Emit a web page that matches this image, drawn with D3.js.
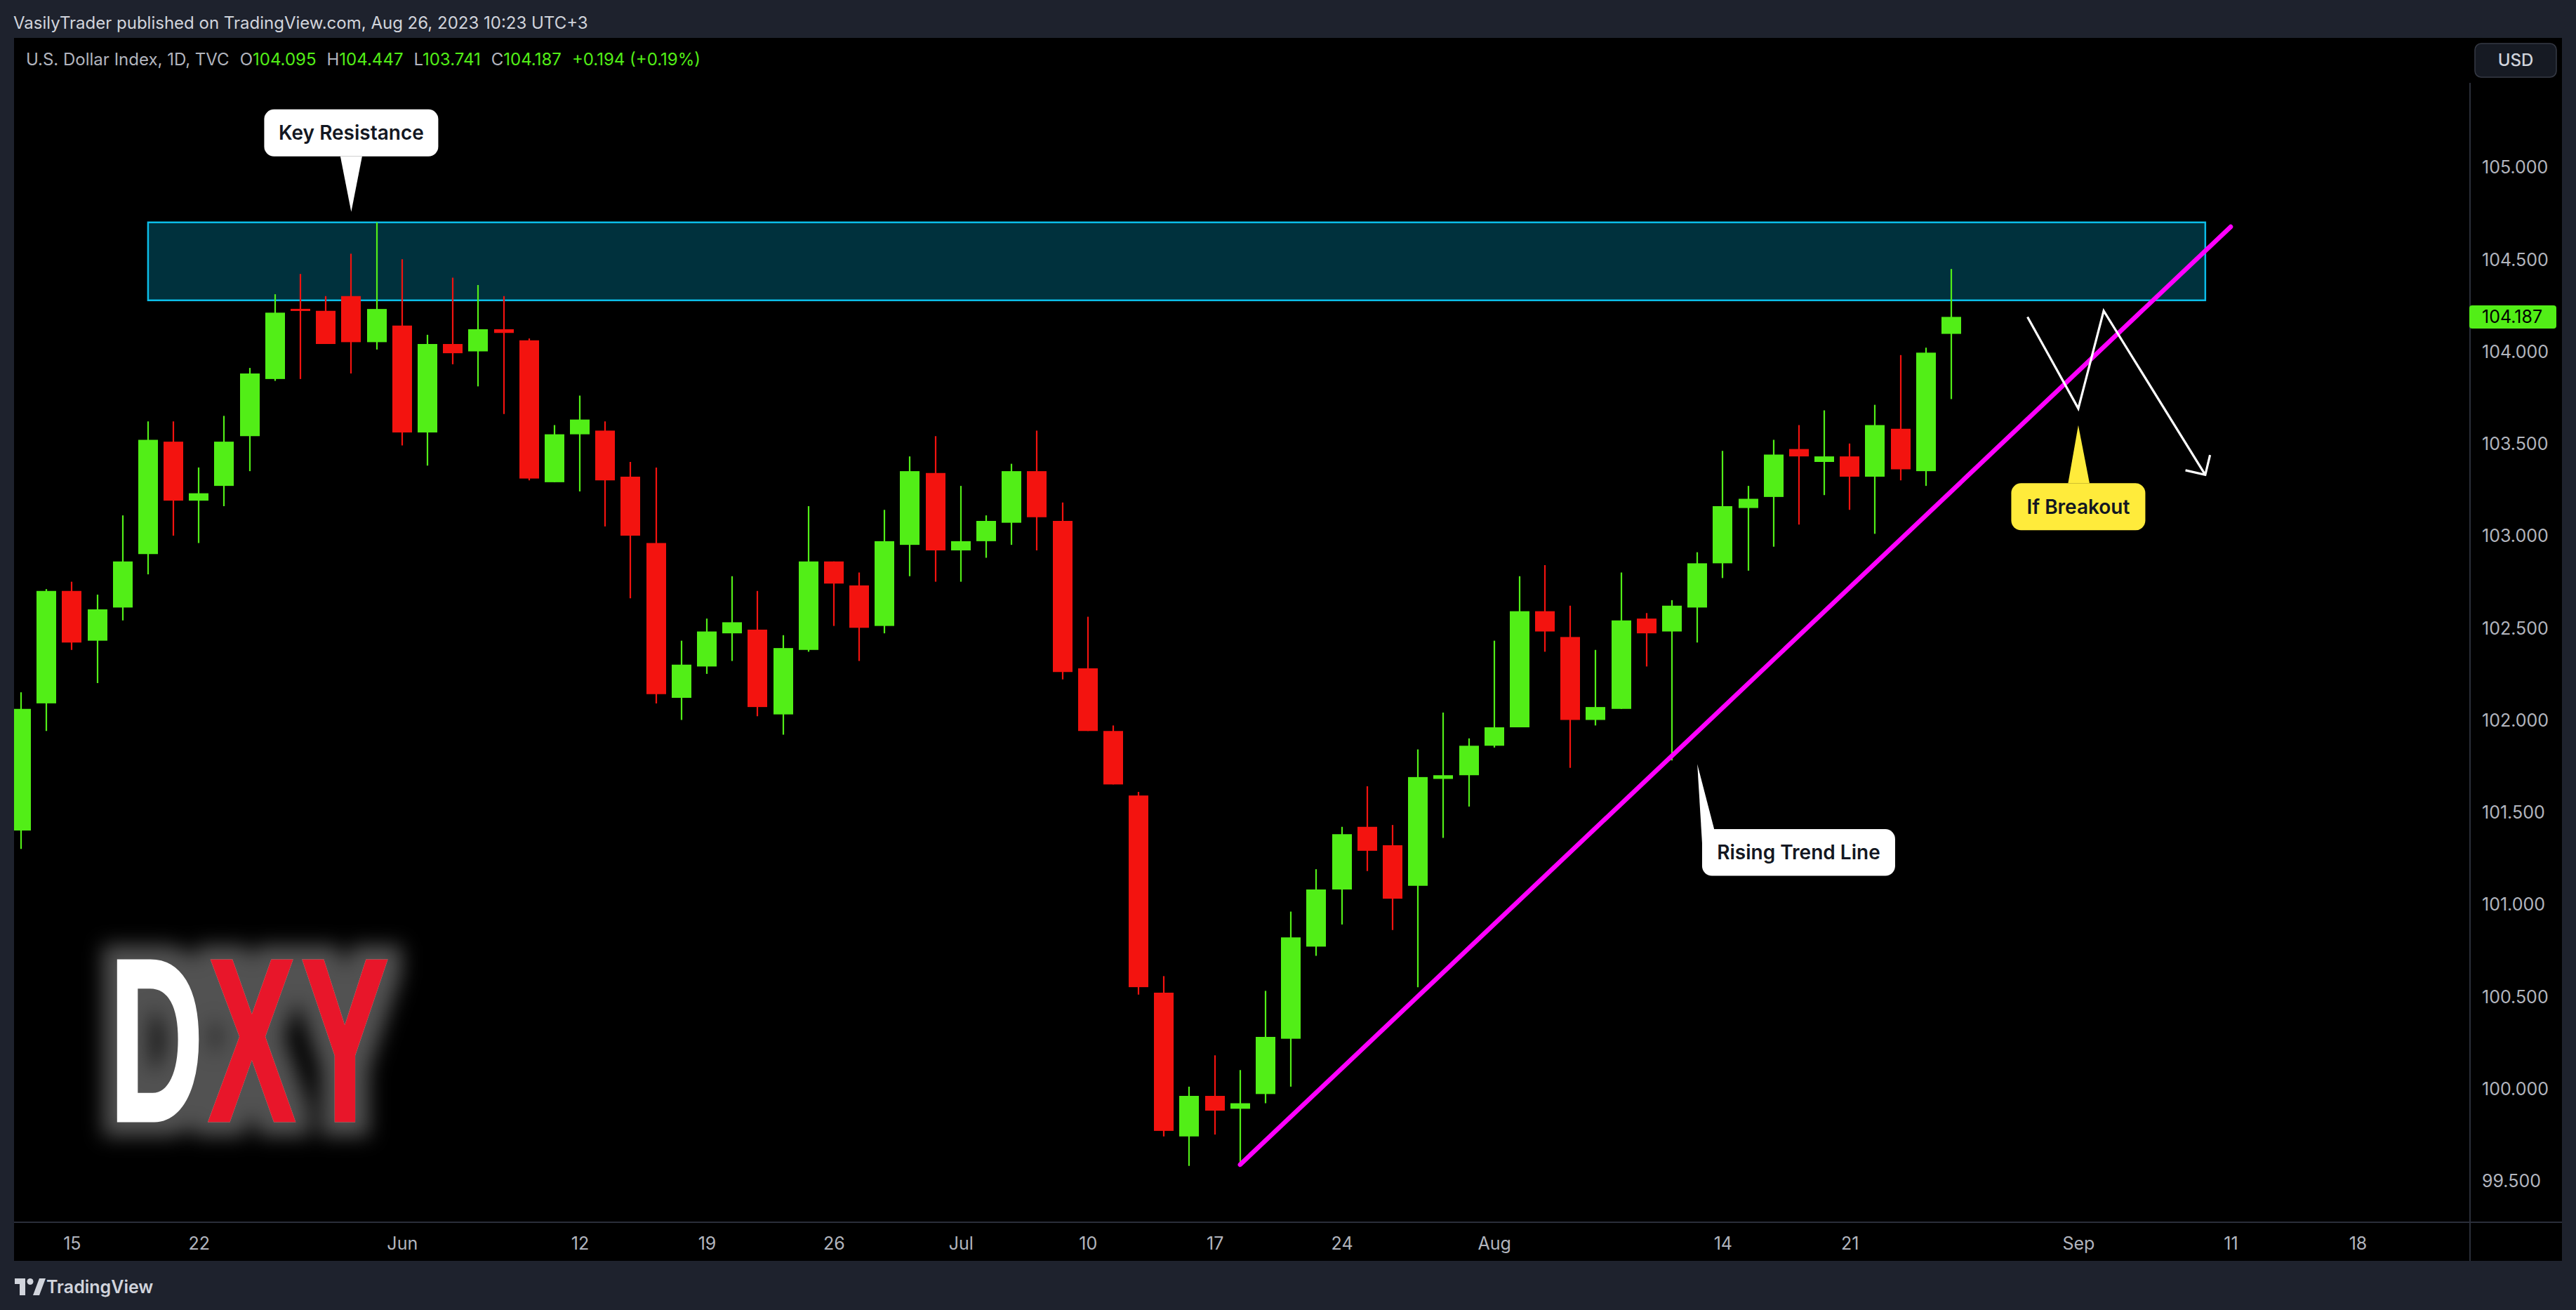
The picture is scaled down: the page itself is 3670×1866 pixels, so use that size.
<!DOCTYPE html>
<html><head><meta charset="utf-8">
<script src="https://cdn.jsdelivr.net/npm/d3@7"></script>
<style>
html,body{margin:0;padding:0;background:#1e222d;overflow:hidden;}
svg{display:block;}
</style></head><body>
<svg id="chart" width="3670" height="1866"></svg>
<script>
// ---------------- DATA ----------------
const dates = ["2023-05-11","2023-05-12","2023-05-15","2023-05-16","2023-05-17","2023-05-18","2023-05-19",
"2023-05-22","2023-05-23","2023-05-24","2023-05-25","2023-05-26","2023-05-29","2023-05-30","2023-05-31",
"2023-06-01","2023-06-02","2023-06-05","2023-06-06","2023-06-07","2023-06-08","2023-06-09","2023-06-12",
"2023-06-13","2023-06-14","2023-06-15","2023-06-16","2023-06-19","2023-06-20","2023-06-21","2023-06-22",
"2023-06-23","2023-06-26","2023-06-27","2023-06-28","2023-06-29","2023-06-30","2023-07-03","2023-07-04",
"2023-07-05","2023-07-06","2023-07-07","2023-07-10","2023-07-11","2023-07-12","2023-07-13","2023-07-14",
"2023-07-17","2023-07-18","2023-07-19","2023-07-20","2023-07-21","2023-07-24","2023-07-25","2023-07-26",
"2023-07-27","2023-07-28","2023-07-31","2023-08-01","2023-08-02","2023-08-03","2023-08-04","2023-08-07",
"2023-08-08","2023-08-09","2023-08-10","2023-08-11","2023-08-14","2023-08-15","2023-08-16","2023-08-17",
"2023-08-18","2023-08-21","2023-08-22","2023-08-23","2023-08-24","2023-08-25"];
const open = [101.40,102.09,102.70,102.43,102.61,102.90,103.51,103.19,103.27,103.54,103.85,104.23,104.22,104.30,104.05,
104.14,103.56,104.04,104.00,104.12,104.06,103.29,103.55,103.57,103.32,102.96,102.12,102.29,102.47,102.49,102.03,
102.38,102.86,102.73,102.51,102.95,103.34,102.92,102.97,103.07,103.35,103.08,102.28,101.94,101.59,100.52,99.74,
99.96,99.89,99.97,100.27,100.77,101.08,101.42,101.32,101.10,101.68,101.70,101.86,101.96,102.59,102.45,102.00,
102.06,102.55,102.48,102.61,102.85,103.15,103.21,103.47,103.40,103.43,103.32,103.58,103.35,104.095];
const high = [102.15,102.71,102.75,102.68,103.11,103.62,103.62,103.37,103.65,103.91,104.31,104.42,104.30,104.53,104.70,
104.50,104.09,104.40,104.36,104.30,104.07,103.60,103.76,103.62,103.40,103.37,102.43,102.55,102.78,102.70,102.46,
103.16,102.86,102.80,103.14,103.43,103.54,103.27,103.11,103.39,103.57,103.18,102.56,101.97,101.61,100.61,100.01,
100.18,100.10,100.53,100.96,101.19,101.42,101.64,101.43,101.84,102.04,101.90,102.43,102.78,102.84,102.62,102.38,
102.80,102.58,102.65,102.91,103.46,103.27,103.52,103.60,103.68,103.50,103.71,103.98,104.02,104.447];
const low = [101.30,101.94,102.38,102.20,102.54,102.79,103.00,102.96,103.16,103.35,103.84,103.85,104.04,103.88,104.01,
103.49,103.38,103.93,103.81,103.66,103.30,103.29,103.24,103.05,102.66,102.09,102.00,102.25,102.32,102.02,101.92,
102.37,102.51,102.32,102.47,102.78,102.75,102.75,102.88,102.95,102.92,102.22,101.94,101.65,100.51,99.74,99.58,
99.75,99.58,99.92,100.01,100.72,100.89,101.18,100.86,100.55,101.36,101.53,101.85,101.96,102.37,101.74,101.97,
102.06,102.29,101.78,102.42,102.77,102.81,102.94,103.06,103.22,103.14,103.01,103.30,103.27,103.741];
const close = [102.06,102.70,102.42,102.60,102.86,103.52,103.19,103.23,103.51,103.88,104.21,104.22,104.04,104.05,104.23,
103.56,104.04,103.99,104.12,104.10,103.31,103.55,103.63,103.30,103.00,102.14,102.30,102.48,102.53,102.07,102.39,
102.86,102.74,102.50,102.97,103.35,102.92,102.97,103.08,103.35,103.10,102.26,101.94,101.65,100.55,99.77,99.96,
99.88,99.92,100.28,100.82,101.08,101.38,101.29,101.03,101.69,101.70,101.86,101.96,102.59,102.48,102.00,102.07,
102.54,102.47,102.62,102.85,103.16,103.20,103.44,103.43,103.43,103.32,103.60,103.36,103.993,104.187];

const priceTicks = [99.5,100,100.5,101,101.5,102,102.5,103,103.5,104,104.5,105];
const tickDates  = ["2023-05-15","2023-05-22","2023-06-01","2023-06-12","2023-06-19","2023-06-26","2023-07-03",
                    "2023-07-10","2023-07-17","2023-07-24","2023-08-01","2023-08-14","2023-08-21","2023-09-01",
                    "2023-09-11","2023-09-18"];
const tickLabels = ["15","22","Jun","12","19","26","Jul","10","17","24","Aug","14","21","Sep","11","18"];

const headerText = "VasilyTrader published on TradingView.com, Aug 26, 2023 10:23 UTC+3";
const symbolName = "U.S. Dollar Index, 1D, TVC";
const currency = "USD";
const logoText = "DXY";

// drawings (anchored on date / price)
const zone = {from:"2023-05-18", to:"2023-09-08", low:104.277, high:104.70};
const trendLine = [{date:"2023-07-18", price:99.587},{date:"2023-09-11", price:104.676}];
const scenario = [{date:"2023-08-30", price:104.187},{date:"2023-09-01", price:103.69},
                  {date:"2023-09-04", price:104.22},{date:"2023-09-08", price:103.33}];
const callouts = [
  {text:"Key Resistance", date:"2023-05-30", price:104.757, fill:"#ffffff",
   box:[-124,-146,248,67], base:[[-15.5,-79],[15.5,-79]]},
  {text:"Rising Trend Line", date:"2023-08-11", price:101.76, fill:"#ffffff",
   box:[6.8,92.6,275,66.4], base:[[6.8,112],[24,92.6]]},
  {text:"If Breakout", date:"2023-09-01", price:103.599, fill:"#ffeb3b",
   box:[-95.5,82.6,191,67], base:[[-14.5,82.6],[16,82.6]]}
];

// ---------------- LAYOUT / STYLE ----------------
const W = 3670, H = 1866;
const panel = {x:20, y:54, w:3630, h:1742};
const plot = {left:20, right:3519, top:54, bottom:1740};
const GREEN = "#52ee17", RED = "#f3130f";
const FONT = "Inter, 'Noto Sans', Roboto, sans-serif";

const svg = d3.select("#chart");
const defs = svg.append("defs");
defs.append("clipPath").attr("id","plotClip").append("rect")
  .attr("x",plot.left).attr("y",plot.top).attr("width",plot.right-plot.left).attr("height",plot.bottom-plot.top);

// glow filter for logo
const glow = defs.append("filter").attr("id","glow").attr("x","-40%").attr("y","-40%").attr("width","180%").attr("height","180%");
glow.append("feMorphology").attr("in","SourceAlpha").attr("operator","dilate").attr("radius",20).attr("result","dil");
glow.append("feGaussianBlur").attr("in","dil").attr("stdDeviation",14).attr("result","blur");
glow.append("feFlood").attr("flood-color","#ffffff").attr("flood-opacity",0.32).attr("result","col");
glow.append("feComposite").attr("in","col").attr("in2","blur").attr("operator","in").attr("result","halo");
const gm = glow.append("feMerge");
gm.append("feMergeNode").attr("in","halo");
gm.append("feMergeNode").attr("in","SourceGraphic");

// background
svg.append("rect").attr("width",W).attr("height",H).attr("fill","#1e222d");
svg.append("text").attr("x",19).attr("y",32).attr("dominant-baseline","central")
  .attr("font-family",FONT).attr("font-size",24).attr("fill","#d1d4dc").text(headerText);
svg.append("rect").attr("x",panel.x).attr("y",panel.y).attr("width",panel.w).attr("height",panel.h).attr("fill","#000000");

// ---------------- SCALES ----------------
const parse = d3.utcParse("%Y-%m-%d"), fmt = d3.utcFormat("%Y-%m-%d");
const calendar = dates.slice();
let dd = parse(dates[dates.length-1]);
while (calendar.length < dates.length + 40) {
  dd = d3.utcDay.offset(dd, 1);
  const wd = dd.getUTCDay();
  if (wd !== 0 && wd !== 6) calendar.push(fmt(dd));
}
const idx = new Map(calendar.map((s,i)=>[s,i]));
const x = d3.scaleLinear().domain([0, dates.length-1]).range([30, 2780]);
const y = d3.scaleLinear().domain([99.5, 105]).range([1681.75, 238]);
const X = d => x(idx.get(d));

// ---------------- DXY LOGO (single text element) ----------------
const logoFamily = "'Liberation Sans Narrow','Liberation Sans',Arial,sans-serif";
const logoSize = 330, logoStroke = 5;
const logoInk = [[166,277],[295.5,426],[431,557]];      // target ink extents of each letter
const logoColors = ["#ffffff","#e8192c"];               // D white, XY red
const ctx = document.createElement("canvas").getContext("2d");
ctx.font = `bold ${logoSize}px ${logoFamily}`;
const ms = logoText.split("").map(ch => ctx.measureText(ch));
const inkW = ms.map(m => m.actualBoundingBoxLeft + m.actualBoundingBoxRight + logoStroke);
const sx = d3.sum(logoInk, d=>d[1]-d[0]) / d3.sum(inkW);
const xs = logoInk.map((d,i)=> d[0]/sx + ms[i].actualBoundingBoxLeft + logoStroke/2);
const split = (logoInk[0][1] + logoInk[1][0]) / 2 / sx;
const grad = defs.append("linearGradient").attr("id","logoGrad").attr("gradientUnits","userSpaceOnUse")
  .attr("x1",split-0.5).attr("x2",split+0.5).attr("y1",0).attr("y2",0);
grad.append("stop").attr("offset",0.5).attr("stop-color",logoColors[0]);
grad.append("stop").attr("offset",0.5).attr("stop-color",logoColors[1]);
svg.append("g").attr("filter","url(#glow)")
  .append("text").attr("transform",`scale(${sx},1)`)
  .attr("x", xs.join(" ")).attr("y",1596)
  .attr("font-family",logoFamily).attr("font-weight","bold").attr("font-size",logoSize)
  .attr("fill","url(#logoGrad)").attr("stroke","url(#logoGrad)").attr("stroke-width",logoStroke)
  .attr("stroke-linejoin","miter").text(logoText);

// ---------------- CHART ----------------
const g = svg.append("g").attr("clip-path","url(#plotClip)");

// resistance zone
g.append("rect")
  .attr("x",X(zone.from)).attr("y",y(zone.high))
  .attr("width",X(zone.to)-X(zone.from)).attr("height",y(zone.low)-y(zone.high))
  .attr("fill","#00313d").attr("stroke","#0bbde8").attr("stroke-width",2.5);

// candles
const candles = dates.map((d,i)=>({i, o:open[i], h:high[i], l:low[i], c:close[i]}));
const cg = g.append("g");
cg.selectAll("line.wick").data(candles).join("line").attr("class","wick")
  .attr("x1",d=>Math.round(x(d.i))).attr("x2",d=>Math.round(x(d.i)))
  .attr("y1",d=>y(d.h)).attr("y2",d=>y(d.l))
  .attr("stroke",d=>d.c>=d.o?GREEN:RED).attr("stroke-width",2.2);
const bodyW = 28;
cg.selectAll("rect.body").data(candles).join("rect").attr("class","body")
  .attr("x",d=>Math.round(x(d.i))-bodyW/2).attr("width",bodyW)
  .attr("y",d=>{const t=y(Math.max(d.o,d.c)), b=y(Math.min(d.o,d.c)); return (b-t<3)?(t+b)/2-1.5:t;})
  .attr("height",d=>Math.max(3, y(Math.min(d.o,d.c))-y(Math.max(d.o,d.c))))
  .attr("fill",d=>d.c>=d.o?GREEN:RED);

// trend line
g.append("line")
  .attr("x1",X(trendLine[0].date)).attr("y1",y(trendLine[0].price))
  .attr("x2",X(trendLine[1].date)).attr("y2",y(trendLine[1].price))
  .attr("stroke","#ff00ff").attr("stroke-width",6.5).attr("stroke-linecap","round");

// scenario zigzag arrow
const pts = scenario.map(p=>[X(p.date), y(p.price)]);
g.append("path").attr("d", d3.line()(pts)).attr("fill","none")
  .attr("stroke","#ffffff").attr("stroke-width",3.2).attr("stroke-linejoin","miter");
const [ax,ay] = pts[pts.length-1], [bx,by] = pts[pts.length-2];
const ang = Math.atan2(ay-by, ax-bx) + Math.PI, hl = 29;
const head = [[ax+hl*Math.cos(ang-0.79), ay+hl*Math.sin(ang-0.79)],[ax,ay],[ax+hl*Math.cos(ang+0.79), ay+hl*Math.sin(ang+0.79)]];
g.append("path").attr("d", d3.line()(head)).attr("fill","none")
  .attr("stroke","#ffffff").attr("stroke-width",3.2).attr("stroke-linejoin","miter");

// callouts
callouts.forEach(c=>{
  const ax0 = X(c.date), ay0 = y(c.price);
  const cgp = svg.append("g").attr("transform",`translate(${ax0},${ay0})`);
  cgp.append("path").attr("d", d3.line()([[0,0],c.base[0],c.base[1]]) + "Z").attr("fill",c.fill);
  cgp.append("rect").attr("x",c.box[0]).attr("y",c.box[1]).attr("width",c.box[2]).attr("height",c.box[3])
    .attr("rx",14).attr("fill",c.fill);
  cgp.append("text").attr("x",c.box[0]+c.box[2]/2).attr("y",c.box[1]+c.box[3]/2)
    .attr("text-anchor","middle").attr("dominant-baseline","central")
    .attr("font-family",FONT).attr("font-weight",600).attr("font-size",28).attr("fill","#131722").text(c.text);
});

// ---------------- AXES ----------------
svg.append("line").attr("x1",plot.right).attr("x2",plot.right).attr("y1",118).attr("y2",panel.y+panel.h)
  .attr("stroke","#2a2e39").attr("stroke-width",2);
svg.append("line").attr("x1",panel.x).attr("x2",panel.x+panel.w).attr("y1",1741).attr("y2",1741)
  .attr("stroke","#2a2e39").attr("stroke-width",2);

const yAxis = svg.append("g").attr("transform","translate(3536,0)")
  .call(d3.axisRight(y).tickValues(priceTicks).tickFormat(d3.format(".3f")).tickSize(0).tickPadding(0));
yAxis.select(".domain").remove();
yAxis.selectAll("text").attr("font-family",FONT).attr("font-size",25).attr("fill","#b2b5be").attr("dy","0.35em");

const xAxis = svg.append("g").attr("transform","translate(0,1771)")
  .call(d3.axisBottom(x).tickValues(tickDates.map(d=>idx.get(d))).tickFormat((d,i)=>tickLabels[i]).tickSize(0).tickPadding(0));
xAxis.select(".domain").remove();
xAxis.selectAll("text").attr("font-family",FONT).attr("font-size",25).attr("fill","#b2b5be").attr("dy","0.35em");

// last price label
const last = dates.length-1;
svg.append("rect").attr("x",3518).attr("y",y(close[last])-16.5).attr("width",124).attr("height",33).attr("rx",4).attr("fill",GREEN);
svg.append("text").attr("x",3536).attr("y",y(close[last])).attr("dy","0.35em")
  .attr("font-family",FONT).attr("font-size",25).attr("fill","#000000").text(d3.format(".3f")(close[last]));

// currency button
svg.append("rect").attr("x",3526).attr("y",62).attr("width",116).attr("height",48).attr("rx",9)
  .attr("fill","#161a23").attr("stroke","#363a45").attr("stroke-width",1.5);
svg.append("text").attr("x",3584).attr("y",86).attr("dy","0.35em").attr("text-anchor","middle")
  .attr("font-family",FONT).attr("font-size",24).attr("font-weight",500).attr("fill","#d1d4dc").text(currency);

// legend
const chg = close[last]-close[last-1];
const legend = svg.append("text").attr("x",37).attr("y",85).attr("dy","0.35em")
  .attr("font-family",FONT).attr("font-size",24).attr("fill","#b2b5be");
legend.append("tspan").text(symbolName);
[["O",open[last]],["H",high[last]],["L",low[last]],["C",close[last]]].forEach(([k,v])=>{
  legend.append("tspan").attr("dx",15).text(k);
  legend.append("tspan").attr("fill",GREEN).text(d3.format(".3f")(v));
});
legend.append("tspan").attr("dx",15).attr("fill",GREEN)
  .text(`${d3.format("+.3f")(chg)} (${d3.format("+.2f")(chg/close[last-1]*100)}%)`);

// TradingView footer logo
const tv = svg.append("g").attr("transform","translate(21,1821)").attr("fill","#d1d4dc");
tv.append("path").attr("d","M0 0 H15 V24 H7 V8 H0 Z");
tv.append("circle").attr("cx",22).attr("cy",4.5).attr("r",4.5);
tv.append("path").attr("d","M26 24 L35 0 H44 L35 24 Z");
svg.append("text").attr("x",66).attr("y",1833).attr("dy","0.35em")
  .attr("font-family",FONT).attr("font-size",25).attr("font-weight",600).attr("fill","#d1d4dc").text("TradingView");
</script>
</body></html>
